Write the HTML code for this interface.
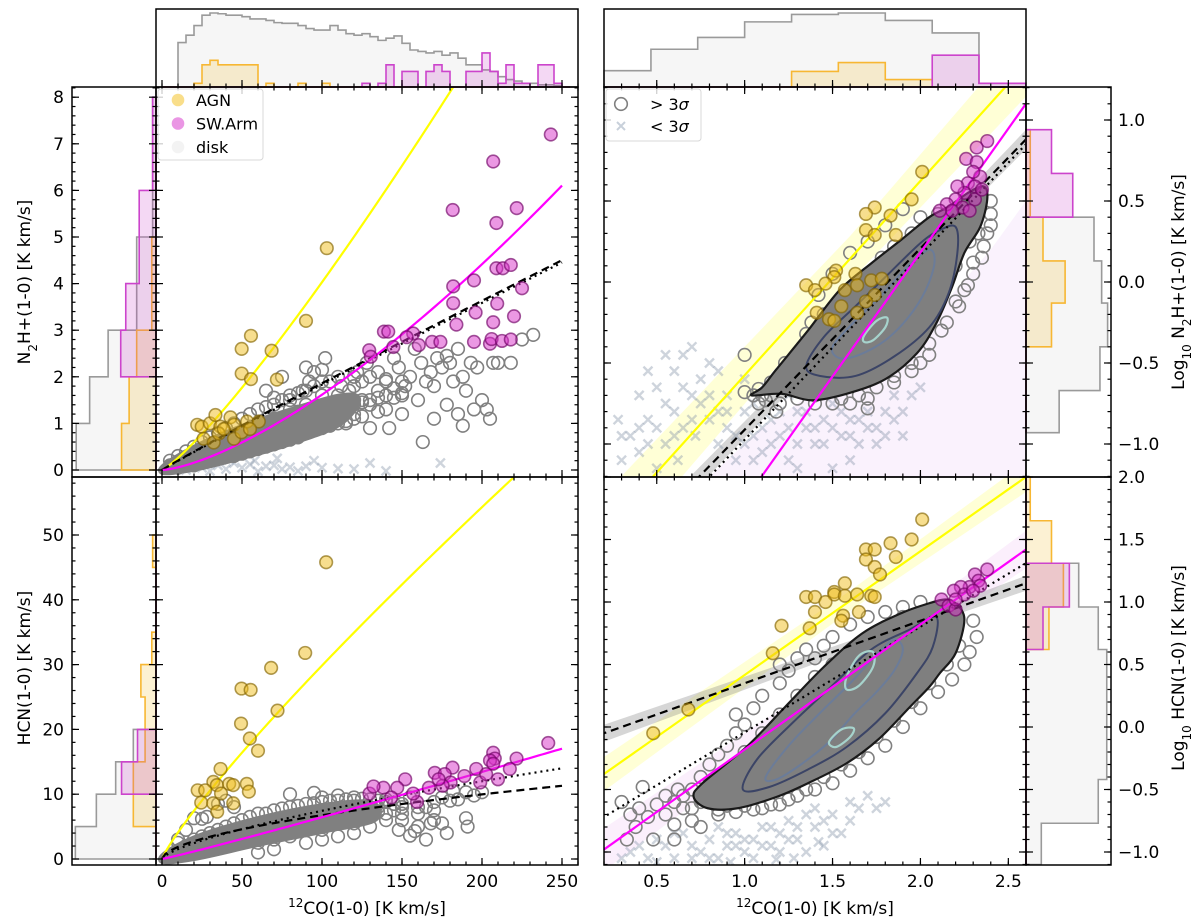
<!DOCTYPE html>
<html><head><meta charset="utf-8"><style>
html,body{margin:0;padding:0;background:#fff;}
svg{display:block;font-family:"DejaVu Sans","Liberation Sans",sans-serif;}
</style></head><body>
<svg id="chart" width="1200" height="920" viewBox="0 0 1200 920" xmlns="http://www.w3.org/2000/svg">
<rect x="0" y="0" width="1200" height="920" fill="#fff"/>
</svg>
<script>
// ---------------- DATA ----------------
const binsCO = [0,5,10,15,20,25,30,35,40,45,50,55,60,65,70,75,80,85,90,95,100,105,110,115,120,125,130,135,140,145,150,155,160,165,170,175,180,185,190,195,200,205,210,215,220,225,230,235,240,245,250,255];
const histCOdisk = [0,0,60,70,83,97,100,99,97,97,95,92,92,90,87,86,86,83,79,77,77,83,77,72,70,72,68,63,66,69,59,50,48,46,48,43,46,39,30,30,23,21,14,10,8,5,5,3,3,2,0];
const histCOagn = [0,0,0,0,5,30,36,30,30,30,30,30,0,5,0,0,0,5,0,0,5,0,0,0,0,0,0,0,0,0,0,0,0,0,0,0,0,0,0,0,0,0,0,0,0,0,0,0,0,0,0];
const histCOarm = [0,0,0,0,0,0,0,0,0,0,0,0,0,0,0,0,0,0,0,0,0,0,0,0,0,5,0,5,30,0,21,21,0,21,30,21,0,0,21,21,46,21,5,30,5,5,0,30,30,5,0];
const binsN2H = [0,1,2,3,4,5,6,7,8];
const histN2Hdisk = [95,79,57,23,23,4,4,4];
const histN2Hagn = [41,32,23,5,5,0,0,0];
const histN2Harm = [0,0,42,36,20,20,4,4];
const binsHCN = [0,5,10,15,20,25,30,35,40,45,50];
const histHCNdisk = [96,71,48,27,0,0,0,0,0,0];
const histHCNagn = [0,27,27,13,13,18,5,0,0,4];
const histHCNarm = [0,0,41,22,0,0,0,0,0,0];
const binsLogCO = [0.2,0.467,0.733,1.0,1.267,1.533,1.8,2.067,2.333,2.6];
const histLogCOdisk = [22,51,67,88,98,100,90,73,5];
const histLogCOagn = [0,0,0,0,21,33,10,0,0];
const histLogCOarm = [0,0,0,0,0,0,0,43,5];
const binsLogN2H = [0.94,0.67,0.40,0.13,-0.13,-0.40,-0.67,-0.93];
const histLogN2Hdisk = [0,0,80,89,96,87,39];
const histLogN2Hagn = [5,5,20,46,30,0,0];
const histLogN2Harm = [30,55,0,0,0,0,0];
const binsLogHCN = [2.0,1.65,1.31,0.96,0.62,0.27,-0.08,-0.42,-0.77,-1.1];
const histLogHCNdisk = [0,0,62,85,95,95,95,85,18];
const histLogHCNagn = [5,30,44,27,0,0,0,0,0];
const histLogHCNarm = [0,0,51,20,0,0,0,0,0];

const agnN2H = [[103,4.76],[90,3.2],[55.6,2.88],[49.8,2.6],[68.5,2.56],[49.8,2.07],[55.6,1.95],[71.8,1.94],[22,0.97],[24.8,0.93],[30,1.0],[33.4,1.18],[36.5,0.93],[42.8,1.13],[45,0.97],[53.2,1.04],[60.5,1.04],[26,0.67],[32.3,0.59],[45,0.67],[49.7,0.81],[55,0.88],[35.5,0.78],[38.6,0.88]];
const armN2H = [[243,7.2],[207,6.62],[181.7,5.58],[221.7,5.62],[209,5.3],[209,4.33],[213,4.33],[195,4.07],[182,3.94],[225,3.9],[182,3.58],[209.5,3.57],[196,3.38],[184,3.12],[207,3.17],[138.7,2.97],[141.4,2.97],[157,2.93],[152.9,2.85],[144.6,2.64],[129.5,2.57],[160.5,2.68],[168.8,2.75],[174,2.75],[195,2.75],[205,2.71],[206,2.81],[212.5,2.77],[130.5,2.43],[218,4.4],[220,3.3],[218,2.8]];
const diskN2H = [[120,2.0],[128,2.3],[135,2.1],[140,1.9],[145,2.4],[148,2.2],[155,2.0],[158,2.6],[162,2.3],[165,1.9],[168,2.1],[170,1.8],[172,2.4],[175,2.2],[178,2.45],[180,2.3],[182,1.9],[185,2.6],[188,2.0],[190,1.7],[193,2.3],[197,2.2],[200,1.5],[203,1.3],[207,2.3],[205,1.1],[195,1.3],[185,1.2],[178,1.4],[170,1.1],[188,0.95],[210,2.3],[130,1.4],[110,1.4],[100,2.15],[95,2.1],[102,2.4],[117,1.7],[125,1.5],[150,1.6],[160,1.5],[140,1.3],[115,1.0],[130,0.9],[150,1.2],[163,0.6],[142,0.9],[80,1.5],[70,1.55],[60,1.3],[85,1.25],[112,1.8],[90,2.2],[92,1.9],[75,2.0],[65,1.7],[225,2.8],[218,2.3],[232,2.9],[105,1.9],[122,2.1],[135,1.7],[152,1.8],[120,1.2],[100,1.6],[88,1.7],
 [5,0.1],[5,0.2],[10,0.15],[10,0.3],[10,0.05],[15,0.2],[15,0.4],[20,0.25],[20,0.5],[20,0.1],[25,0.3],[25,0.6],[25,0.15],[30,0.35],[30,0.7],[30,0.2],[35,0.4],[35,0.8],[35,0.25],[40,0.45],[40,0.9],[40,0.3],[45,0.55],[45,1.0],[45,0.3],[50,0.6],[50,1.1],[50,0.35],[55,0.65],[55,1.2],[55,0.4],[60,0.7],[60,0.45],[60,1.0],[65,0.8],[65,1.35],[65,0.5],[70,0.85],[70,1.4],[70,0.55],[70,1.1],[75,0.9],[75,1.5],[75,0.6],[80,1.0],[80,1.6],[80,0.65],[80,1.3],[85,1.05],[85,1.65],[85,0.7],[90,1.1],[90,1.7],[90,0.8],[90,1.4],[95,1.15],[95,1.8],[95,0.85],[100,1.2],[100,1.9],[100,0.9],[105,1.25],[105,0.95],[110,1.3],[110,2.0],[110,1.0],[110,1.6],[115,1.35],[115,1.05],[120,1.4],[120,1.8],[120,1.1],[125,1.45],[125,1.9],[125,1.15],[130,1.5],[130,2.0],[135,1.55],[135,1.25],[140,1.6],[140,1.95],[145,1.55],[145,1.75],[150,1.65],[150,1.9]];
const denseN2H = [[0,0],[20,0.45],[50,0.9],[80,1.25],[110,1.55],[122,1.5],[110,1.0],[80,0.6],[50,0.3],[20,0.05]];
const lowN2H = [[5,0.05],[10,0.1],[15,0],[20,0.12],[25,0.05],[30,-0.02],[35,0.1],[40,0.02],[45,0.15],[50,0.05],[55,0.12],[60,-0.03],[65,0.08],[70,0.1],[75,0.02],[80,0.06],[85,-0.02],[90,0.08],[100,0.05],[110,0.03],[120,0.02],[130,0.15],[140,-0.02],[174,0.15],[12,0.2],[28,0.18],[42,0.22],[58,0.2],[72,0.25],[95,0.2]];

const agnHCN = [[102.6,45.8],[89.5,31.8],[68.2,29.5],[49.7,26.3],[55.4,26.1],[72.2,22.9],[49.4,20.9],[54.9,18.6],[60,16.7],[36.6,13.9],[32.1,11.9],[34.3,11.4],[42,11.6],[44.5,11.4],[53,11.6],[22.3,10.6],[27,10.6],[54.3,10.4],[24.5,8.7],[32,8.6],[44.5,8.6],[34.5,7.3],[36.9,10.1]];
const armHCN = [[241.4,17.9],[221.6,15.5],[207,16.4],[208,15.5],[205,15.2],[207,14.7],[217.4,13.9],[196.4,13.9],[181.6,14.1],[170.5,13.3],[176.7,13.1],[180.4,11.8],[175.4,11.3],[166.8,11],[189,12.8],[198.9,11.8],[210,12.3],[202.6,13.1],[152,12.3],[147,11],[159.4,8.8],[157,10.1],[138.4,11],[143.3,9.5],[129.7,10.1],[132.2,11.2],[172.9,12.3]];
const diskHCN = [[10,3],[15,4.5],[20,6.3],[25,6.2],[28,6.5],[35,8.5],[40,9],[45,8],[80,10],[95,10.2],[100,9.5],[110,9.8],[120,9.5],[140,9.2],[150,8],[160,7],[170,6],[175,5.5],[160,5],[155,3.6],[158,4.3],[165,3],[175,9.5],[180,9],[185,9.2],[190,6.3],[191,5],[178,4],[168,5.5],[182,10.5],[190,10.3],[200,10.3],[195,9.8],[170,8.8],[155,9.5],[148,4.5],[130,6.5],[140,6],[120,4],[100,3],[90,2.5],[70,1.5],[60,1],[165,8],[150,6],[135,8],[125,7.5],
 [10,1],[10,2.5],[15,2],[20,3],[20,1.5],[25,3.5],[25,2],[30,4],[30,2.5],[35,4.5],[35,3],[40,5],[40,3],[45,5.5],[45,3.5],[50,6],[50,4],[55,6.5],[55,4.2],[60,7],[60,4.5],[65,7],[65,5],[70,7.5],[70,5.2],[75,7.8],[75,5.5],[80,8],[80,5.5],[85,8.2],[85,6],[90,8.5],[90,6],[95,8.6],[95,6.2],[100,8.8],[100,6.5],[105,9],[105,6.5],[110,9],[110,6.8],[115,9.2],[115,7],[120,9],[120,7],[125,9.3],[125,7.2],[130,9.2],[130,7.5],[135,9],[135,7.3],[140,8.8],[140,7],[145,8.5],[145,7.5],[150,8.5],[150,7],[160,8],[170,7.5],[60,2.5],[80,3.5],[100,4.5],[120,5.5],[110,3.5],[130,5],[70,3]];
const denseHCN = [[0,0],[20,3],[60,6],[100,8],[130,8.5],[132,6.2],[100,4.5],[60,2.5],[20,0.3]];

const agnLogN2H = [[2.01,0.68],[1.95,0.51],[1.74,0.46],[1.69,0.42],[1.83,0.41],[1.69,0.32],[1.74,0.29],[1.86,0.29],[1.52,0.07],[1.51,0.03],[1.46,-0.01],[1.35,-0.02],[1.40,-0.05],[1.63,0.05],[1.72,0.01],[1.78,0.02],[1.57,-0.05],[1.64,-0.02],[1.74,-0.08],[1.69,-0.12],[1.55,-0.15],[1.64,-0.19],[1.41,-0.19],[1.48,-0.23],[1.51,-0.24]];
const armLogN2H = [[2.38,0.87],[2.32,0.83],[2.26,0.76],[2.32,0.74],[2.34,0.65],[2.27,0.61],[2.31,0.59],[2.25,0.55],[2.20,0.51],[2.31,0.51],[2.15,0.48],[2.24,0.46],[2.28,0.44],[2.18,0.44],[2.11,0.44],[2.30,0.68],[2.35,0.57],[2.21,0.59]];
const diskLogN2H = [[1.05,-0.70],[1.08,-0.66],[1.12,-0.73],[1.18,-0.80],[1.25,-0.55],[1.30,-0.45],[1.23,-0.5],[1.15,-0.62],[1.35,-0.32],[1.38,-0.25],[1.45,-0.2],[1.42,-0.08],[1.50,0.05],[1.33,-0.40],[1.6,-0.75],[1.7,-0.72],[1.55,-0.72],[1.85,-0.62],[1.95,-0.55],[2.05,-0.45],[2.15,-0.25],[2.22,-0.15],[2.3,0.05],[2.35,0.15],[2.38,0.3],[2.4,0.42],[2.28,0.25],[2.2,0.1],[2.1,-0.1],[1.9,0.45],[1.8,0.35],[1.7,0.25],[1.6,0.18],[1.0,-0.45],[1.7,-0.78],[2.0,0.4],[2.1,0.42],[1.25,-0.62],[1.4,-0.7],[2.0,-0.5],[2.25,-0.05],[2.33,0.3],
 [1.0,-0.68],[1.08,-0.75],[1.15,-0.7],[1.2,-0.6],[1.3,-0.5],[1.4,-0.38],[1.48,-0.25],[1.55,-0.12],[1.62,-0.02],[1.7,0.05],[1.78,0.15],[1.85,0.22],[1.95,0.3],[2.05,0.35],[2.15,0.42],[2.25,0.48],[2.4,0.5],[2.4,0.35],[2.36,0.22],[2.3,0.12],[2.27,-0.02],[2.2,-0.12],[2.12,-0.3],[2.05,-0.38],[1.95,-0.5],[1.85,-0.58],[1.75,-0.65],[1.65,-0.7],[1.5,-0.75],[1.4,-0.75],[1.3,-0.72],[1.2,-0.75],[1.1,-0.7]];
const lowLogN2H = [[0.3,-1.1],[0.35,-0.95],[0.4,-1.05],[0.45,-0.85],[0.5,-0.9],[0.55,-0.75],[0.6,-0.8],[0.65,-0.65],[0.7,-0.7],[0.75,-0.6],[0.5,-1.15],[0.62,-1.1],[0.72,-0.95],[0.8,-0.85],[0.85,-1.0],[0.9,-0.9],[0.95,-1.1],[1.0,-0.8],[1.05,-0.95],[1.1,-1.05],[1.15,-0.85],[1.2,-0.95],[1.25,-1.1],[1.3,-0.8],[1.35,-0.9],[1.4,-1.0],[1.45,-0.85],[1.5,-0.75],[1.55,-0.95],[1.6,-0.85],[1.7,-0.9],[1.75,-1.0],[1.8,-0.8],[1.85,-0.7],[0.55,-0.45],[0.7,-0.4],[0.8,-0.5],[1.0,-0.6],[1.3,-1.15],[1.6,-1.1],[1.9,-0.95],[1.95,-0.7],[1.5,-1.15],[0.9,-0.7],[0.6,-0.55],[1.12,-0.65],[0.4,-0.7],[0.28,-0.85],
 [0.3,-0.95],[0.4,-0.9],[0.45,-1.0],[0.55,-1.0],[0.6,-0.95],[0.65,-0.9],[0.7,-0.85],[0.75,-0.75],[0.8,-0.7],[0.85,-0.8],[0.9,-0.8],[0.95,-0.95],[1.0,-1.0],[1.05,-1.1],[1.1,-0.9],[1.15,-1.0],[1.2,-0.8],[1.25,-0.9],[1.3,-1.0],[1.35,-0.8],[1.4,-0.9],[1.45,-1.0],[1.5,-0.9],[1.55,-0.8],[1.6,-0.95],[1.65,-0.85],[1.7,-0.8],[1.75,-0.9],[1.8,-0.95],[1.85,-0.85],[1.9,-0.8],[2.0,-0.65],[0.5,-0.65],[0.45,-0.55],[0.65,-0.45],[0.85,-0.55],[1.05,-0.75],[1.25,-0.7],[1.45,-0.7],[1.65,-1.0]];
const c3outer = [[1.04,-0.70],[1.10,-0.65],[1.18,-0.54],[1.36,-0.30],[1.54,-0.05],[1.72,0.115],[1.89,0.26],[2.05,0.40],[2.16,0.465],[2.27,0.55],[2.36,0.59],[2.38,0.51],[2.34,0.34],[2.25,0.18],[2.18,-0.03],[2.09,-0.255],[1.98,-0.44],[1.80,-0.60],[1.58,-0.69],[1.38,-0.73],[1.21,-0.69]];
const c3mid = [[1.35,-0.52],[1.45,-0.34],[1.63,-0.15],[1.80,0.03],[2.00,0.24],[2.11,0.32],[2.20,0.34],[2.21,0.18],[2.16,-0.07],[2.05,-0.28],[1.85,-0.46],[1.63,-0.58],[1.43,-0.58]];
const c3inner = [[1.50,-0.40],[1.62,-0.25],[1.78,-0.08],[1.93,0.10],[2.05,0.20],[2.08,0.12],[2.03,-0.05],[1.93,-0.22],[1.80,-0.36],[1.65,-0.45],[1.54,-0.47]];
const c3core = [[1.68,-0.33],[1.75,-0.24],[1.81,-0.22],[1.80,-0.28],[1.73,-0.36],[1.68,-0.37]];

const agnLogHCN = [[2.01,1.66],[1.95,1.50],[1.83,1.47],[1.69,1.42],[1.74,1.42],[1.86,1.36],[1.69,1.34],[1.74,1.28],[1.77,1.22],[1.57,1.15],[1.51,1.08],[1.51,1.06],[1.57,1.05],[1.64,1.06],[1.72,1.05],[1.74,1.04],[1.35,1.04],[1.40,1.04],[1.46,1.00],[1.40,0.92],[1.56,0.89],[1.65,0.92],[1.55,0.85],[1.21,0.81],[1.37,0.79],[1.16,0.59],[0.48,-0.05],[0.68,0.14]];
const armLogHCN = [[2.38,1.26],[2.31,1.22],[2.33,1.17],[2.28,1.12],[2.23,1.12],[2.19,1.09],[2.25,1.06],[2.34,1.13],[2.12,1.02],[2.16,0.97],[2.20,0.94],[2.30,1.09],[2.2,1.02]];
const diskLogHCN = [[0.3,-0.6],[0.35,-0.7],[0.38,-0.8],[0.45,-0.72],[0.5,-0.62],[0.42,-0.48],[0.55,-0.55],[0.62,-0.5],[0.65,-0.65],[0.7,-0.75],[0.48,-0.9],[0.6,-0.78],[0.75,-0.40],[0.8,-0.30],[0.85,-0.22],[0.9,-0.15],[0.95,-0.05],[0.88,-0.42],[1.0,0.02],[1.05,0.15],[1.1,0.25],[1.2,0.35],[1.25,0.45],[1.3,0.55],[1.4,0.55],[1.45,0.65],[1.5,0.72],[1.6,0.82],[1.7,0.88],[1.8,0.92],[1.9,0.96],[2.0,1.0],[2.3,0.85],[2.32,0.72],[2.28,0.6],[2.25,0.5],[2.18,0.38],[2.1,0.28],[2.0,0.15],[1.9,0.0],[1.8,-0.15],[1.7,-0.25],[1.6,-0.35],[1.5,-0.45],[1.4,-0.5],[1.3,-0.55],[1.2,-0.62],[1.1,-0.65],[1.0,-0.63],[0.9,-0.63],[0.8,-0.6],[0.85,-0.7],[1.2,0.5],[1.35,0.62],[0.95,0.1],
 [0.7,-0.5],[0.8,-0.45],[0.9,-0.35],[1.0,-0.2],[1.1,-0.05],[1.2,0.1],[1.3,0.25],[1.4,0.4],[1.5,0.5],[1.6,0.6],[1.7,0.7],[1.8,0.8],[1.9,0.88],[2.2,0.8],[2.22,0.65],[2.15,0.5],[2.05,0.35],[1.95,0.2],[1.85,0.05],[1.75,-0.08],[1.65,-0.2],[1.55,-0.3],[1.45,-0.4],[1.35,-0.5],[1.25,-0.58],[1.15,-0.62],[1.05,-0.66],[0.95,-0.68],[0.85,-0.66],[0.75,-0.6],[0.65,-0.55],[0.6,-0.6],[0.55,-0.7],[0.7,-0.65],[0.75,-0.8],[0.6,-0.9],[0.4,-0.65],[0.33,-0.9]];
const lowLogHCN = [[0.35,-1.0],[0.45,-1.05],[0.55,-0.95],[0.6,-1.05],[0.7,-0.95],[0.75,-1.0],[0.8,-0.9],[0.85,-1.05],[0.9,-0.95],[0.95,-0.85],[1.0,-1.0],[1.05,-0.9],[1.1,-0.8],[1.15,-0.95],[1.2,-0.85],[1.25,-0.75],[1.3,-0.8],[1.35,-0.7],[1.4,-0.65],[1.45,-0.75],[1.5,-0.7],[1.6,-0.6],[1.7,-0.55],[1.55,-0.85],[0.65,-0.85],[0.5,-1.08],[1.28,-1.05],[1.42,-0.92],[0.92,-1.08],[1.18,-1.06],
 [0.3,-1.05],[0.4,-0.95],[0.5,-0.9],[0.6,-0.85],[0.7,-1.05],[0.8,-1.05],[0.9,-0.85],[1.0,-0.9],[1.05,-1.05],[1.1,-0.95],[1.2,-1.0],[1.3,-0.9],[1.35,-1.0],[1.4,-0.8],[1.5,-0.85],[1.6,-0.75],[1.65,-0.65],[1.75,-0.65],[1.8,-0.6],[0.85,-0.8],[0.95,-0.95],[1.15,-0.8],[1.25,-0.9],[1.45,-0.95]];
const c4outer = [[0.71,-0.56],[0.76,-0.45],[1.01,-0.16],[1.23,0.16],[1.45,0.48],[1.67,0.75],[1.89,0.91],[2.05,0.99],[2.14,1.02],[2.20,0.99],[2.25,0.86],[2.20,0.59],[2.11,0.43],[2.05,0.32],[1.94,0.16],[1.76,-0.10],[1.58,-0.29],[1.36,-0.45],[1.18,-0.56],[0.96,-0.65],[0.79,-0.65]];
const c4mid = [[0.99,-0.50],[1.07,-0.26],[1.27,0.03],[1.49,0.32],[1.72,0.62],[1.94,0.78],[2.09,0.88],[2.07,0.64],[1.98,0.43],[1.80,0.11],[1.58,-0.16],[1.36,-0.34],[1.14,-0.48]];
const c4inner = [[1.12,-0.40],[1.25,-0.15],[1.42,0.10],[1.60,0.35],[1.75,0.58],[1.85,0.70],[1.90,0.62],[1.85,0.45],[1.75,0.28],[1.62,0.10],[1.48,-0.12],[1.32,-0.30],[1.18,-0.42]];
const c4coreA = [[1.58,0.40],[1.65,0.57],[1.73,0.60],[1.73,0.48],[1.65,0.33],[1.58,0.30]];
const c4coreB = [[1.48,-0.12],[1.55,-0.02],[1.62,-0.01],[1.60,-0.08],[1.52,-0.16]];

const fitN2Hagn = [0.0168,1.19], fitN2Harm = [0.002035,1.45], fitN2Hall = [0.02197,0.964], fitN2Hdot = [0.02102,0.97];
const fitHCNagn = [0.561,0.863], fitHCNarm = [0.0489,1.06], fitHCNall = [0.513,0.56], fitHCNdot = [0.31,0.69];
const linN2Hagn = [1.2,-1.776], linN2Harm = [1.53,-2.878], linN2Hall = [1.12,-2.032], linN2Hdot = [1.14,-2.114];
const linHCNagn = [0.99,-0.574], linHCNarm = [1.0,-1.18], linHCNall = [0.5,-0.15], linHCNdot = [0.846,-0.889];

// ---------------- DRAWING ----------------
const NS='http://www.w3.org/2000/svg';
const svg=document.getElementById('chart');
function mk(tag,attrs,parent){const e=document.createElementNS(NS,tag);for(const k in attrs)e.setAttribute(k,attrs[k]);(parent||svg).appendChild(e);return e;}
const RX1=1026, RX2=1111;
const P={
 p1:{x0:156,x1:578,y0:87,y1:477,X:v=>162+1.6*v,Y:v=>470-46.6*v},
 p2:{x0:156,x1:578,y0:477,y1:865,X:v=>162+1.6*v,Y:v=>859-6.48*v},
 p3:{x0:604,x1:RX1,y0:87,y1:477,X:v=>604+(v-0.2)*175.8,Y:v=>282-162*v},
 p4:{x0:604,x1:RX1,y0:477,y1:865,X:v=>604+(v-0.2)*175.8,Y:v=>727-125*v}
};
const defs=mk('defs',{});
for(const k in P){const p=P[k];const cp=mk('clipPath',{id:'clip-'+k},defs);mk('rect',{x:p.x0,y:p.y0,width:p.x1-p.x0,height:p.y1-p.y0},cp);}
function panelGroup(k,name){const g=mk('g',{'clip-path':'url(#clip-'+k+')'});
 
 
 return g;}
function smooth(pts,X,Y){const n=pts.length;const q=pts.map(p=>[X(p[0]),Y(p[1])]);let d='M'+q[0][0]+','+q[0][1];
 for(let i=0;i<n;i++){const p0=q[(i-1+n)%n],p1=q[i],p2=q[(i+1)%n],p3=q[(i+2)%n];
  d+=' C'+(p1[0]+(p2[0]-p0[0])/6)+','+(p1[1]+(p2[1]-p0[1])/6)+' '+(p2[0]-(p3[0]-p1[0])/6)+','+(p2[1]-(p3[1]-p1[1])/6)+' '+p2[0]+','+p2[1];}
 return d+'Z';}
function poly(pts,X,Y){return 'M'+pts.map(p=>X(p[0])+','+Y(p[1])).join(' L')+'Z';}
function crosses(g,pts,X,Y,color,name){for(const p of pts){const x=X(p[0]),y=Y(p[1]);
 const c=mk('path',{d:`M${x-4.5},${y-4.5}L${x+4.5},${y+4.5}M${x-4.5},${y+4.5}L${x+4.5},${y-4.5}`,stroke:color,'stroke-width':2.4,opacity:0.4},g);
 
 }}
function dots(g,pts,X,Y,fill,stroke,name){for(const p of pts){const c=mk('circle',{cx:X(p[0]),cy:Y(p[1]),r:6.3,fill:fill,stroke:stroke,'stroke-width':1.6},g);
 
 }}
function powLine(g,f,X,Y,xmax,color,dash,w,name){let d='';for(let i=0;i<=120;i++){const x=0.01+xmax*i/120;d+=(i?'L':'M')+X(x)+','+Y(f[0]*Math.pow(x,f[1]));}
 const l=mk('path',{d:d,fill:'none',stroke:color,'stroke-width':w,'stroke-dasharray':dash},g);
 
 }
function linLine(g,f,X,Y,color,dash,w,name){const l=mk('line',{x1:X(0.1),y1:Y(f[0]*0.1+f[1]),x2:X(2.7),y2:Y(f[0]*2.7+f[1]),stroke:color,'stroke-width':w,'stroke-dasharray':dash},g);
 
 }
function linBand(g,f,X,Y,fill,base,grow,name){const xs=[];for(let i=0;i<=26;i++)xs.push(0.1+i*0.1);
 const up=xs.map(x=>[x,f[0]*x+f[1]+base+grow*Math.abs(x-1.6)]);const dn=xs.slice().reverse().map(x=>[x,f[0]*x+f[1]-base-grow*Math.abs(x-1.6)]);
 const b=mk('path',{d:poly(up.concat(dn),X,Y),fill:fill,stroke:'none'},g);
 
 }
function contour(g,pts,X,Y,stroke,w,fill,name){const c=mk('path',{d:smooth(pts,X,Y),fill:fill,stroke:stroke,'stroke-width':w},g);
 
 }
const CROSS='#8796aa';

// ---- Panel 1 ----
{const p=P.p1,g=panelGroup('p1','n2h-linear-panel');
 crosses(g,lowN2H,p.X,p.Y,CROSS,'below-3sigma-marker');
 const dz=mk('path',{d:smooth(denseN2H,p.X,p.Y),fill:'#808080',stroke:'#808080','stroke-width':8},g);
 
 
 dots(g,diskN2H,p.X,p.Y,'none','#808080','disk-point');
 powLine(g,fitN2Hagn,p.X,p.Y,260,'#ffff00','',2.2,'agn-fit-line');
 powLine(g,fitN2Hdot,p.X,p.Y,250,'#000','2,4',2.2,'all-fit-dotted');
 powLine(g,fitN2Hall,p.X,p.Y,250,'#000','8,5',2.2,'all-fit-dashed');
 powLine(g,fitN2Harm,p.X,p.Y,250,'#ff00ff','',2.2,'arm-fit-line');
 dots(g,agnN2H,p.X,p.Y,'rgba(240,190,30,0.5)','rgba(130,100,0,0.65)','agn-point');
 dots(g,armN2H,p.X,p.Y,'rgba(215,50,200,0.5)','rgba(110,0,100,0.65)','arm-point');}
// ---- Panel 2 ----
{const p=P.p2,g=panelGroup('p2','hcn-linear-panel');
 const dz=mk('path',{d:smooth(denseHCN,p.X,p.Y),fill:'#808080',stroke:'#808080','stroke-width':8},g);
 
 
 dots(g,diskHCN,p.X,p.Y,'none','#808080','disk-point');
 powLine(g,fitHCNagn,p.X,p.Y,260,'#ffff00','',2.2,'agn-fit-line');
 powLine(g,fitHCNdot,p.X,p.Y,250,'#000','2,4',2.2,'all-fit-dotted');
 powLine(g,fitHCNall,p.X,p.Y,250,'#000','8,5',2.2,'all-fit-dashed');
 powLine(g,fitHCNarm,p.X,p.Y,250,'#ff00ff','',2.2,'arm-fit-line');
 dots(g,agnHCN,p.X,p.Y,'rgba(240,190,30,0.5)','rgba(130,100,0,0.65)','agn-point');
 dots(g,armHCN,p.X,p.Y,'rgba(215,50,200,0.5)','rgba(110,0,100,0.65)','arm-point');}
// ---- Panel 3 ----
{const p=P.p3,g=panelGroup('p3','n2h-log-panel');
 const lav=mk('path',{d:poly([[0.75,-1.25],[1.1,-0.9],[1.5,-0.6],[2.0,-0.3],[2.4,0.2],[2.6,0.5],[2.6,-1.25]],p.X,p.Y),fill:'rgba(220,170,240,0.15)'},g);
 
 
 linBand(g,linN2Hagn,p.X,p.Y,'rgba(255,255,120,0.3)',0.14,0.06,'agn-fit-band');
 linBand(g,linN2Hall,p.X,p.Y,'rgba(120,120,120,0.3)',0.04,0.02,'all-fit-band');
 crosses(g,lowLogN2H,p.X,p.Y,CROSS,'below-3sigma-marker');
 dots(g,diskLogN2H,p.X,p.Y,'none','#808080','disk-point');
 contour(g,c3outer,p.X,p.Y,'#1a1a1a',2.2,'#7f7f7f','density-contour-outer');
 contour(g,c3mid,p.X,p.Y,'#3b4466',2,'none','density-contour-mid');
 contour(g,c3inner,p.X,p.Y,'#6b7c99',2,'none','density-contour-inner');
 contour(g,c3core,p.X,p.Y,'#a6d3cc',2.2,'none','density-contour-core');
 linLine(g,linN2Hagn,p.X,p.Y,'#ffff00','',2.2,'agn-fit-line');
 linLine(g,linN2Hdot,p.X,p.Y,'#000','2,4',2.2,'all-fit-dotted');
 linLine(g,linN2Hall,p.X,p.Y,'#000','8,5',2.2,'all-fit-dashed');
 linLine(g,linN2Harm,p.X,p.Y,'#ff00ff','',2.2,'arm-fit-line');
 dots(g,agnLogN2H,p.X,p.Y,'rgba(240,190,30,0.5)','rgba(130,100,0,0.65)','agn-point');
 dots(g,armLogN2H,p.X,p.Y,'rgba(215,50,200,0.5)','rgba(110,0,100,0.65)','arm-point');}
// ---- Panel 4 ----
{const p=P.p4,g=panelGroup('p4','hcn-log-panel');
 linBand(g,linHCNarm,p.X,p.Y,'rgba(240,190,245,0.25)',0.1,0.05,'arm-fit-band');
 linBand(g,linHCNagn,p.X,p.Y,'rgba(255,255,120,0.3)',0.08,0.04,'agn-fit-band');
 linBand(g,linHCNall,p.X,p.Y,'rgba(120,120,120,0.3)',0.04,0.02,'all-fit-band');
 crosses(g,lowLogHCN,p.X,p.Y,CROSS,'below-3sigma-marker');
 dots(g,diskLogHCN,p.X,p.Y,'none','#808080','disk-point');
 contour(g,c4outer,p.X,p.Y,'#1a1a1a',2.2,'#7f7f7f','density-contour-outer');
 contour(g,c4mid,p.X,p.Y,'#3b4466',2,'none','density-contour-mid');
 contour(g,c4inner,p.X,p.Y,'#6b7c99',2,'none','density-contour-inner');
 contour(g,c4coreA,p.X,p.Y,'#a6d3cc',2.2,'none','density-contour-core');
 contour(g,c4coreB,p.X,p.Y,'#a6d3cc',2.2,'none','density-contour-core');
 linLine(g,linHCNagn,p.X,p.Y,'#ffff00','',2.2,'agn-fit-line');
 linLine(g,linHCNdot,p.X,p.Y,'#000','2,4',2.2,'all-fit-dotted');
 linLine(g,linHCNall,p.X,p.Y,'#000','8,5',2.2,'all-fit-dashed');
 linLine(g,linHCNarm,p.X,p.Y,'#ff00ff','',2.2,'arm-fit-line');
 dots(g,agnLogHCN,p.X,p.Y,'rgba(240,190,30,0.5)','rgba(130,100,0,0.65)','agn-point');
 dots(g,armLogHCN,p.X,p.Y,'rgba(215,50,200,0.5)','rgba(110,0,100,0.65)','arm-point');}

// ---- Histograms ----
const HS={disk:['rgba(235,235,235,0.45)','#9a9a9a'],agn:['rgba(245,200,80,0.25)','#f7b733'],arm:['rgba(200,60,200,0.2)','#cc44cc']};
function histTop(edges,vals,X,base,maxH,style,name){let d='M'+X(edges[0])+','+base;
 for(let i=0;i<vals.length;i++){const y=base-vals[i]/100*maxH;d+=' L'+X(edges[i])+','+y+' L'+X(edges[i+1])+','+y;}
 d+=' L'+X(edges[vals.length])+','+base+'Z';
 const h=mk('path',{d:d,fill:style[0],stroke:style[1],'stroke-width':1.6},svg);
 
 }
function histSide(edges,vals,Y,base,dir,maxW,style,name){let d='M'+base+','+Y(edges[0]);
 for(let i=0;i<vals.length;i++){const x=base+dir*vals[i]/100*maxW;d+=' L'+x+','+Y(edges[i])+' L'+x+','+Y(edges[i+1]);}
 d+=' L'+base+','+Y(edges[vals.length])+'Z';
 const h=mk('path',{d:d,fill:style[0],stroke:style[1],'stroke-width':1.6},svg);
 
 }
histTop(binsCO,histCOdisk,P.p1.X,87,74,HS.disk,'co-hist-disk');
histTop(binsCO,histCOagn,P.p1.X,87,74,HS.agn,'co-hist-agn');
histTop(binsCO,histCOarm,P.p1.X,87,74,HS.arm,'co-hist-arm');
histTop(binsLogCO,histLogCOdisk,P.p3.X,87,74,HS.disk,'logco-hist-disk');
histTop(binsLogCO,histLogCOagn,P.p3.X,87,74,HS.agn,'logco-hist-agn');
histTop(binsLogCO,histLogCOarm,P.p3.X,87,74,HS.arm,'logco-hist-arm');
histSide(binsN2H,histN2Hdisk,P.p1.Y,156,-1,84,HS.disk,'n2h-hist-disk');
histSide(binsN2H,histN2Hagn,P.p1.Y,156,-1,84,HS.agn,'n2h-hist-agn');
histSide(binsN2H,histN2Harm,P.p1.Y,156,-1,84,HS.arm,'n2h-hist-arm');
histSide(binsHCN,histHCNdisk,P.p2.Y,156,-1,84,HS.disk,'hcn-hist-disk');
histSide(binsHCN,histHCNagn,P.p2.Y,156,-1,84,HS.agn,'hcn-hist-agn');
histSide(binsHCN,histHCNarm,P.p2.Y,156,-1,84,HS.arm,'hcn-hist-arm');
histSide(binsLogN2H,histLogN2Hdisk,P.p3.Y,RX1,1,85,HS.disk,'logn2h-hist-disk');
histSide(binsLogN2H,histLogN2Hagn,P.p3.Y,RX1,1,85,HS.agn,'logn2h-hist-agn');
histSide(binsLogN2H,histLogN2Harm,P.p3.Y,RX1,1,85,HS.arm,'logn2h-hist-arm');
histSide(binsLogHCN,histLogHCNdisk,P.p4.Y,RX1,1,85,HS.disk,'loghcn-hist-disk');
histSide(binsLogHCN,histLogHCNagn,P.p4.Y,RX1,1,85,HS.agn,'loghcn-hist-agn');
histSide(binsLogHCN,histLogHCNarm,P.p4.Y,RX1,1,85,HS.arm,'loghcn-hist-arm');

// ---- Frames & ticks ----
const frames=[[156,9,578,87],[604,9,RX1,87],[72,87,156,477],[72,477,156,865],[RX1,87,RX2,477],[RX1,477,RX2,865],[156,87,578,477],[156,477,578,865],[604,87,RX1,477],[604,477,RX1,865]];
for(const f of frames){const r=mk('rect',{x:f[0],y:f[1],width:f[2]-f[0],height:f[3]-f[1],fill:'none',stroke:'#000','stroke-width':1.5});
 
 }
const tg=mk('g',{stroke:'#000','stroke-width':1.2});


function xt(X,lo,hi,step,ys,len,x0,x1){for(let v=lo;v<=hi+1e-9;v+=step){const x=X(v);if(x<x0-0.5||x>x1+0.5)continue;for(const [y,d] of ys)mk('line',{x1:x,y1:y,x2:x,y2:y+d*len},tg);}}
function ytk(Y,lo,hi,step,xs,len,y0,y1){for(let v=lo;v<=hi+1e-9;v+=step){const y=Y(v);if(y<y0-0.5||y>y1+0.5)continue;for(const [x,d] of xs)mk('line',{x1:x,y1:y,x2:x+d*len,y2:y},tg);}}
for(const [y0,y1] of [[87,477],[477,865]]){xt(P.p1.X,0,250,50,[[y0,1],[y1,-1]],7,156,578);xt(P.p1.X,0,260,10,[[y0,1],[y1,-1]],3.5,156,578);}
xt(P.p1.X,0,250,50,[[87,-1]],7,156,578);xt(P.p1.X,0,260,10,[[87,-1]],3.5,156,578);
for(const [y0,y1] of [[87,477],[477,865]]){xt(P.p3.X,0.5,2.5,0.5,[[y0,1],[y1,-1]],7,604,RX1);xt(P.p3.X,0.2,2.6,0.1,[[y0,1],[y1,-1]],3.5,604,RX1);}
xt(P.p3.X,0.5,2.5,0.5,[[87,-1]],7,604,RX1);xt(P.p3.X,0.2,2.6,0.1,[[87,-1]],3.5,604,RX1);
ytk(P.p1.Y,0,8,1,[[72,1],[156,-1],[156,1],[578,-1]],7,87,477);ytk(P.p1.Y,0,8.2,0.2,[[72,1],[156,-1],[156,1],[578,-1]],3.5,87,477);
ytk(P.p2.Y,0,50,10,[[72,1],[156,-1],[156,1],[578,-1]],7,477,865);ytk(P.p2.Y,0,58,2,[[72,1],[156,-1],[156,1],[578,-1]],3.5,477,865);
ytk(P.p3.Y,-1,1,0.5,[[604,1],[RX1,-1],[RX1,1],[RX2,-1]],7,87,477);ytk(P.p3.Y,-1.2,1.2,0.1,[[604,1],[RX1,-1],[RX1,1],[RX2,-1]],3.5,87,477);
ytk(P.p4.Y,-1,2,0.5,[[604,1],[RX1,-1],[RX1,1],[RX2,-1]],7,477,865);ytk(P.p4.Y,-1.1,2,0.1,[[604,1],[RX1,-1],[RX1,1],[RX2,-1]],3.5,477,865);

// ---- Tick labels ----
const xLabCO = ['0','50','100','150','200','250'];
const xValCO = [0,50,100,150,200,250];
const xLabLog = ['0.5','1.0','1.5','2.0','2.5'];
const xValLog = [0.5,1.0,1.5,2.0,2.5];
const yValN2H = [0,1,2,3,4,5,6,7,8];
const yValHCN = [0,10,20,30,40,50];
const yValLogN2H = [-1.0,-0.5,0.0,0.5,1.0];
const yValLogHCN = [-1.0,-0.5,0.0,0.5,1.0,1.5,2.0];
function txt(x,y,s,anchor,name,size){const t=mk('text',{x:x,y:y,'text-anchor':anchor,'font-size':size||17,fill:'#000'});t.textContent=s;
 
 return t;}
xValCO.forEach((v,i)=>txt(P.p2.X(v),887,xLabCO[i],'middle','x-tick-label'));
xValLog.forEach((v,i)=>txt(P.p4.X(v),887,xLabLog[i],'middle','x-tick-label'));
yValN2H.forEach(v=>txt(64,P.p1.Y(v)+6,String(v),'end','y-tick-label'));
yValHCN.forEach(v=>txt(64,P.p2.Y(v)+6,String(v),'end','y-tick-label'));
const fmt=v=>(v<0?'\u2212':'')+Math.abs(v).toFixed(1);
yValLogN2H.forEach(v=>txt(1118,P.p3.Y(v)+6,fmt(v),'start','y-tick-label'));
yValLogHCN.forEach(v=>txt(1118,P.p4.Y(v)+6,fmt(v),'start','y-tick-label'));

// ---- Axis titles ----
function rich(x,y,parts,rot,name){const t=mk('text',{x:x,y:y,'text-anchor':'middle','font-size':17,fill:'#000',transform:rot?`rotate(-90 ${x} ${y})`:''});
 
 
 for(const [s,k] of parts){const sp=mk('tspan',{},t);sp.textContent=s;if(k==='sub'){sp.setAttribute('baseline-shift','sub');sp.setAttribute('font-size','12');}if(k==='sup'){sp.setAttribute('baseline-shift','super');sp.setAttribute('font-size','12');}}
 return t;}
rich(367,914,[['12','sup'],['CO(1-0) [K km/s]','']],false,'x-axis-title');
rich(815,914,[['12','sup'],['CO(1-0) [K km/s]','']],false,'x-axis-title');
rich(30,282,[['N','' ],['2','sub'],['H+(1-0) [K km/s]','']],true,'y-axis-title-n2h');
rich(30,668,[['HCN(1-0) [K km/s]','']],true,'y-axis-title-hcn');
rich(1184,282,[['Log','' ],['10','sub'],[' N',''],['2','sub'],['H+(1-0) [K km/s]','']],true,'y-axis-title-log-n2h');
rich(1184,668,[['Log','' ],['10','sub'],[' HCN(1-0) [K km/s]','']],true,'y-axis-title-log-hcn');

// ---- Legends ----
{const g=mk('g',{});
 
 
 mk('rect',{x:158,y:89,width:105,height:71,rx:3,fill:'rgba(255,255,255,0.8)',stroke:'#d8d8d8'},g);
 const items=[['AGN','rgba(245,200,60,0.6)'],['SW.Arm','rgba(220,80,210,0.6)'],['disk','rgba(235,235,235,0.6)']];
 items.forEach((it,i)=>{const c=mk('circle',{cx:178,cy:100+i*23.5,r:6.3,fill:it[1]},g);
  
  
  const t=txt(196,106+i*23.5,it[0],'start','legend-entry',16);g.appendChild(t);});}
{const g=mk('g',{});
 
 
 mk('rect',{x:606,y:89,width:95,height:52,rx:3,fill:'rgba(255,255,255,0.8)',stroke:'#d8d8d8'},g);
 const c=mk('circle',{cx:621,cy:104,r:6.3,fill:'none',stroke:'#808080','stroke-width':1.6},g);
 
 
 const x=mk('path',{d:'M617,122L625,130M617,130L625,122',stroke:'#c8d0da','stroke-width':2},g);
 
 
 const t1=txt(650,110,'> 3','start','legend-entry',16);const s1=mk('tspan',{'font-style':'italic'},t1);s1.textContent='\u03c3';g.appendChild(t1);
 const t2=txt(650,132,'< 3','start','legend-entry',16);const s2=mk('tspan',{'font-style':'italic'},t2);s2.textContent='\u03c3';g.appendChild(t2);}
</script>
</body></html>
